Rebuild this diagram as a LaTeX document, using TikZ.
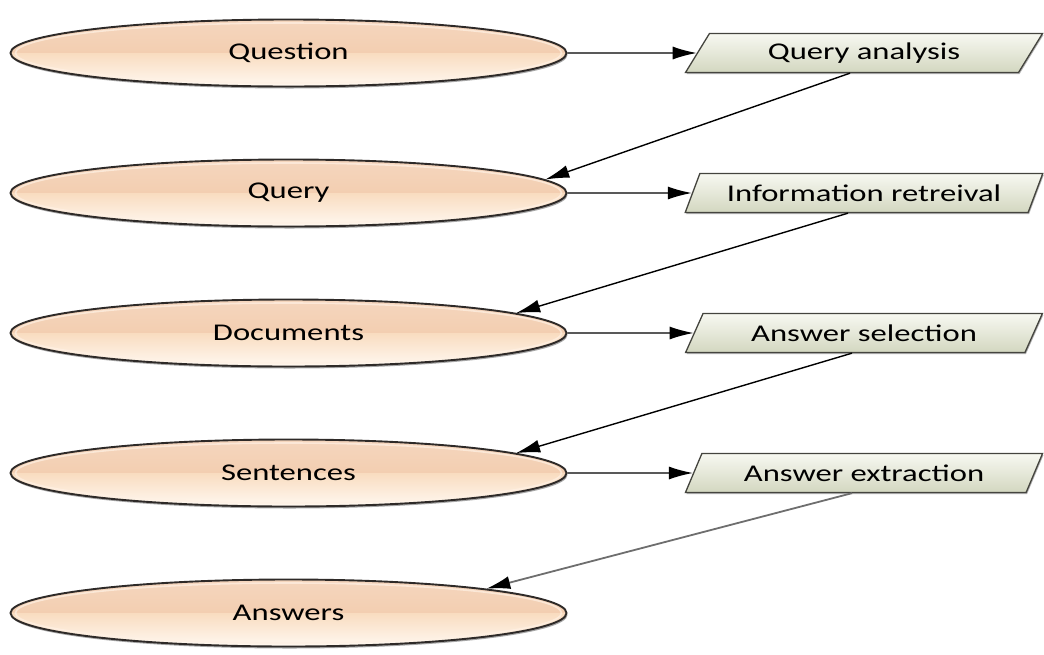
\documentclass[tikz,border=0pt]{standalone}
\usepackage{graphicx}
\usepackage{fontspec}
\setmainfont{Carlito}
\usetikzlibrary{shapes.geometric,arrows.meta,shadows,calc}
\definecolor{elTop}{HTML}{F5D6BE}
\definecolor{elMid}{HTML}{F0C6A3}
\definecolor{elLow}{HTML}{F9DCC0}
\definecolor{elBot}{HTML}{FFF8F0}
\definecolor{elEdge}{HTML}{2E2A28}
\definecolor{elRim}{HTML}{FFF1E4}
\definecolor{bxTop}{HTML}{F7F8F1}
\definecolor{bxBot}{HTML}{D3D7C0}
\definecolor{bxEdge}{HTML}{44443E}
\definecolor{grayline}{HTML}{6E6E6E}
\tikzset{
  stage/.style={ellipse, minimum width=556pt, minimum height=67pt, inner sep=0pt,
    draw=elEdge, line width=1.9pt, font=\fontsize{24}{28}\selectfont,
    drop shadow={shadow xshift=1pt, shadow yshift=-2pt, opacity=0.35, fill=black},
    path picture={
      \fill[top color=elTop, bottom color=elMid] (path picture bounding box.north west) rectangle (path picture bounding box.east);
      \fill[top color=elLow, bottom color=elBot] (path picture bounding box.west) rectangle (path picture bounding box.south east);
      \draw[elRim, opacity=0.7, line width=1.6pt] (path picture bounding box.center) ellipse [x radius=273pt, y radius=-30pt];
    }},
  proc/.style={trapezium, trapezium left angle=54, trapezium right angle=126,
    trapezium stretches=true, minimum width=358pt, minimum height=39pt, inner sep=0pt,
    draw=bxEdge, line width=1.3pt, top color=bxTop, bottom color=bxBot,
    font=\fontsize{24}{28}\selectfont,
    drop shadow={shadow xshift=1pt, shadow yshift=-1.5pt, opacity=0.3, fill=black}},
  flow/.style={line width=1.4pt, draw=black, -{Latex[length=24pt,width=13pt]}},
  back/.style={line width=1.4pt, draw=black, -{Latex[length=24pt,width=13pt]}},
  backgray/.style={line width=1.8pt, draw=grayline, -{Latex[length=24pt,width=13pt,color=black]}}
}
\newcommand{\wtext}[1]{\scalebox{1.36}[1]{#1}}
\begin{document}
\begin{tikzpicture}[x=1pt,y=-1pt]
\useasboundingbox (0,0) rectangle (1044,654);
\node[stage] (q)  at (288.5,53)  {\wtext{Question}};
\node[stage] (qy) at (288.5,193) {\wtext{Query}};
\node[stage] (d)  at (288.5,333) {\wtext{Documents}};
\node[stage] (s)  at (288.5,473) {\wtext{Sentences}};
\node[stage] (a)  at (288.5,613) {\wtext{Answers}};
\node[proc] (qa) at (864,53)  {\wtext{Query analysis}};
\node[proc] (ir) at (864,193) {\wtext{Information retreival}};
\node[proc] (as) at (864,333) {\wtext{Answer selection}};
\node[proc] (ae) at (864,473) {\wtext{Answer extraction}};
\draw[flow] (q.east)  -- (qa.west);
\draw[flow] (qy.east) -- (ir.west);
\draw[flow] (d.east)  -- (as.west);
\draw[flow] (s.east)  -- (ae.west);
\draw[back] ([xshift=-14pt]qa.south) -- (qy.3);
\draw[back] ([xshift=-16pt]ir.south) -- (d.5);
\draw[back] ([xshift=-12pt]as.south) -- (s.5);
\draw[backgray] ([xshift=-12pt]ae.south) -- (a.7);
\end{tikzpicture}
\end{document}
